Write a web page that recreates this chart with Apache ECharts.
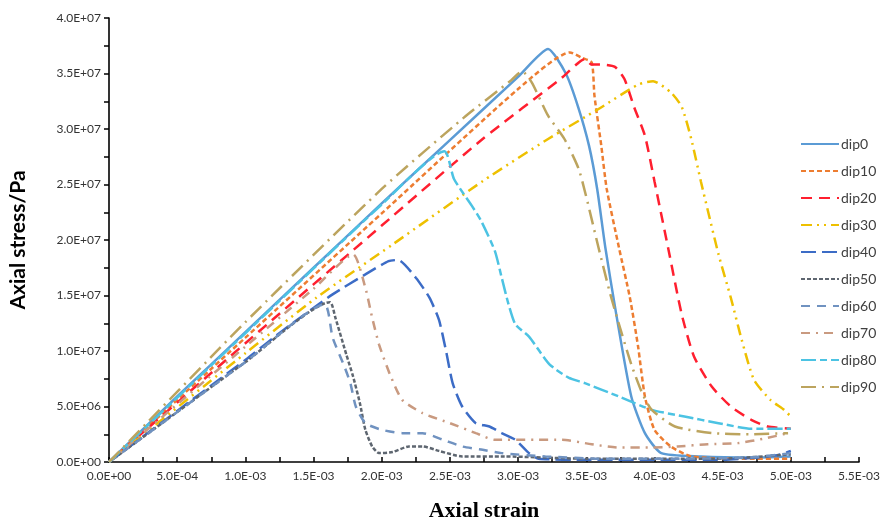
<!DOCTYPE html>
<html>
<head>
<meta charset="utf-8">
<script src="https://cdn.jsdelivr.net/npm/echarts@6/dist/echarts.min.js"></script>
<style>
html,body{margin:0;padding:0;background:#fff;}
#chart{width:895px;height:527px;}
</style>
</head>
<body>
<div id="chart"></div>
<script>
// ---- data (strain, stress in Pa) ----
const seriesNames = ['dip0','dip10','dip20','dip30','dip40','dip50','dip60','dip70','dip80','dip90'];

const dip0_x = [0, 5e-4, 1e-3, 1.5e-3, 2e-3, 2.5e-3, 3e-3, 3.22e-3, 3.35e-3, 3.44e-3, 3.52e-3, 3.58e-3, 3.64e-3, 3.72e-3, 3.83e-3, 3.93e-3, 4.05e-3, 4.34e-3, 4.7e-3, 5.0e-3];
const dip0_y = [0, 5.9e6, 1.17e7, 1.75e7, 2.33e7, 2.9e7, 3.47e7, 3.72e7, 3.5e7, 3.2e7, 2.85e7, 2.46e7, 1.93e7, 1.33e7, 5.9e6, 2.6e6, 0.8e6, 0.5e6, 0.4e6, 0.5e6];

const dip10_x = [0, 1e-3, 2e-3, 3e-3, 3.38e-3, 3.47e-3, 3.54e-3, 3.56e-3, 3.61e-3, 3.65e-3, 3.74e-3, 3.82e-3, 3.88e-3, 3.93e-3, 4.0e-3, 4.12e-3, 4.27e-3, 4.6e-3, 5.0e-3];
const dip10_y = [0, 1.12e7, 2.24e7, 3.36e7, 3.69e7, 3.64e7, 3.6e7, 3.3e7, 2.85e7, 2.46e7, 1.93e7, 1.48e7, 1.04e7, 5.9e6, 2.9e6, 1.4e6, 0.5e6, 0.3e6, 0.3e6];

const dip20_x = [0, 1e-3, 2e-3, 2.74e-3, 3.32e-3, 3.49e-3, 3.54e-3, 3.62e-3, 3.71e-3, 3.78e-3, 3.85e-3, 3.93e-3, 4.0e-3, 4.1e-3, 4.2e-3, 4.29e-3, 4.42e-3, 4.56e-3, 4.71e-3, 4.83e-3, 5.0e-3];
const dip20_y = [0, 1.07e7, 2.13e7, 2.91e7, 3.46e7, 3.63e7, 3.58e7, 3.58e7, 3.56e7, 3.45e7, 3.2e7, 2.94e7, 2.53e7, 1.93e7, 1.33e7, 9.5e6, 6.8e6, 5.0e6, 3.8e6, 3.2e6, 3.0e6];

const dip30_x = [0, 1e-3, 1.52e-3, 2.08e-3, 2.74e-3, 3.22e-3, 3.59e-3, 3.88e-3, 3.99e-3, 4.12e-3, 4.2e-3, 4.27e-3, 4.34e-3, 4.47e-3, 4.56e-3, 4.64e-3, 4.73e-3, 4.85e-3, 4.95e-3, 5.0e-3];
const dip30_y = [0, 9.8e6, 1.48e7, 1.96e7, 2.53e7, 2.91e7, 3.18e7, 3.4e7, 3.43e7, 3.33e7, 3.2e7, 2.91e7, 2.53e7, 1.87e7, 1.48e7, 1.1e7, 7.4e6, 5.6e6, 4.7e6, 4.1e6];

const dip40_x = [0, 5e-4, 1e-3, 1.28e-3, 1.64e-3, 1.88e-3, 2.05e-3, 2.12e-3, 2.25e-3, 2.35e-3, 2.42e-3, 2.47e-3, 2.52e-3, 2.59e-3, 2.69e-3, 2.79e-3, 2.88e-3, 2.98e-3, 3.08e-3, 3.15e-3, 3.5e-3, 4.0e-3, 4.5e-3, 4.9e-3, 5.0e-3];
const dip40_y = [0, 4.6e6, 9.2e6, 1.19e7, 1.51e7, 1.69e7, 1.81e7, 1.82e7, 1.66e7, 1.48e7, 1.28e7, 1.01e7, 7.1e6, 5.0e6, 3.5e6, 3.2e6, 2.6e6, 2.0e6, 0.8e6, 0.3e6, 0.2e6, 0.2e6, 0.2e6, 0.6e6, 1.0e6];

const dip50_x = [0, 5e-4, 1e-3, 1.62e-3, 1.66e-3, 1.74e-3, 1.79e-3, 1.84e-3, 1.88e-3, 1.93e-3, 1.98e-3, 2.08e-3, 2.2e-3, 2.3e-3, 2.42e-3, 2.59e-3, 2.9e-3, 3.5e-3, 4.0e-3, 4.5e-3, 5.0e-3];
const dip50_y = [0, 4.5e6, 9.0e6, 1.44e7, 1.3e7, 9.7e6, 7.7e6, 5.3e6, 2.9e6, 1.4e6, 0.8e6, 0.9e6, 1.4e6, 1.4e6, 1.0e6, 0.5e6, 0.5e6, 0.3e6, 0.3e6, 0.3e6, 0.7e6];

const dip60_x = [0, 5e-4, 1e-3, 1.58e-3, 1.64e-3, 1.72e-3, 1.77e-3, 1.81e-3, 1.88e-3, 2.0e-3, 2.15e-3, 2.3e-3, 2.45e-3, 2.59e-3, 2.74e-3, 2.88e-3, 3.2e-3, 3.6e-3, 4.2e-3, 4.7e-3, 5.0e-3];
const dip60_y = [0, 4.5e6, 9.0e6, 1.42e7, 1.12e7, 8.8e6, 7.1e6, 5.0e6, 3.5e6, 2.9e6, 2.6e6, 2.6e6, 2.0e6, 1.4e6, 1.1e6, 0.8e6, 0.5e6, 0.3e6, 0.3e6, 0.4e6, 0.8e6];

const dip70_x = [0, 1e-3, 1.5e-3, 1.79e-3, 1.88e-3, 1.93e-3, 1.98e-3, 2.06e-3, 2.15e-3, 2.3e-3, 2.5e-3, 2.69e-3, 2.83e-3, 3.12e-3, 3.32e-3, 3.54e-3, 3.74e-3, 3.96e-3, 4.17e-3, 4.39e-3, 4.61e-3, 4.8e-3, 4.98e-3];
const dip70_y = [0, 1.04e7, 1.56e7, 1.87e7, 1.57e7, 1.3e7, 1.06e7, 7.9e6, 5.6e6, 4.4e6, 3.5e6, 2.6e6, 2.0e6, 2.0e6, 2.0e6, 1.6e6, 1.3e6, 1.3e6, 1.4e6, 1.6e6, 1.7e6, 2.1e6, 2.6e6];

const dip80_x = [0, 1e-3, 2e-3, 2.46e-3, 2.53e-3, 2.66e-3, 2.73e-3, 2.83e-3, 2.88e-3, 2.93e-3, 2.98e-3, 3.08e-3, 3.23e-3, 3.37e-3, 3.49e-3, 3.74e-3, 3.98e-3, 4.22e-3, 4.47e-3, 4.71e-3, 5.0e-3];
const dip80_y = [0, 1.16e7, 2.32e7, 2.8e7, 2.55e7, 2.31e7, 2.17e7, 1.9e7, 1.66e7, 1.42e7, 1.24e7, 1.13e7, 8.8e6, 7.6e6, 7.1e6, 5.9e6, 4.7e6, 4.1e6, 3.5e6, 3.0e6, 3.0e6];

const dip90_x = [0, 1e-3, 2e-3, 2.6e-3, 2.95e-3, 3.03e-3, 3.1e-3, 3.22e-3, 3.34e-3, 3.45e-3, 3.59e-3, 3.67e-3, 3.74e-3, 3.83e-3, 3.91e-3, 3.98e-3, 4.15e-3, 4.42e-3, 4.7e-3, 4.98e-3];
const dip90_y = [0, 1.26e7, 2.46e7, 3.1e7, 3.44e7, 3.52e7, 3.42e7, 3.12e7, 2.91e7, 2.62e7, 1.93e7, 1.54e7, 1.24e7, 8.8e6, 6.2e6, 4.7e6, 3.2e6, 2.6e6, 2.5e6, 2.6e6];

const allX = [dip0_x, dip10_x, dip20_x, dip30_x, dip40_x, dip50_x, dip60_x, dip70_x, dip80_x, dip90_x];
const allY = [dip0_y, dip10_y, dip20_y, dip30_y, dip40_y, dip50_y, dip60_y, dip70_y, dip80_y, dip90_y];

// ---- styles ----
const colors = ['#5B9BD5','#ED7D31','#FF1F2F','#EEC000','#3C6CC6','#5E6670','#7092C0','#C99A80','#4CC3E3','#BCA45E'];
const dashes = ['solid', [5,3], [11,7], [11,5,2,5,2,5], [15,6], [4,2], [9,7], [9,6,2,6], [15,4,7,4], [15,6,2,6]];

function sci(v){
  const s = Number(v).toExponential(1);
  const parts = s.split('e');
  const sign = parts[1][0];
  const d = parts[1].slice(1).padStart(2,'0');
  return parts[0] + 'E' + sign + d;
}

const series = seriesNames.map((n,i)=>({
  name: n,
  type: 'line',
  showSymbol: false,
  symbol: 'none',
  smooth: 0.2,
  data: allX[i].map((x,j)=>[x, allY[i][j]]),
  lineStyle: {color: colors[i], width: 2.5, type: dashes[i]},
  itemStyle: {color: colors[i]},
  z: 2
}));

const chart = echarts.init(document.getElementById('chart'), null, {renderer:'canvas'});
chart.setOption({
  animation: false,
  backgroundColor: '#fff',
  grid: {left: 105, right: 36, top: 18, bottom: 61, containLabel: false},
  legend: {
    orient: 'vertical',
    left: 795,
    top: 132,
    itemWidth: 38,
    itemHeight: 14,
    itemGap: 13,
    itemStyle: {opacity: 0},
    data: seriesNames,
    textStyle: {fontFamily: 'Lato', fontSize: 14, color: '#404040', padding: [0,0,0,-3]}
  },
  xAxis: {
    type: 'value', min: 0, max: 0.0055, interval: 0.0005,
    name: 'Axial strain', nameLocation: 'middle', nameGap: 38,
    nameTextStyle: {fontFamily: 'Liberation Serif', fontWeight: 'bold', fontSize: 22, color: '#000'},
    axisLine: {show: true, lineStyle: {color: '#000', width: 1.6}},
    axisTick: {show: true, inside: true, length: 5, lineStyle: {color: '#000', width: 1.5}},
    minorTick: {show: true, splitNumber: 2, length: 5, lineStyle: {color: '#000', width: 1.5}},
    splitLine: {show: false},
    axisLabel: {formatter: sci, fontFamily: 'Lato', fontSize: 12, color: '#333', margin: 8}
  },
  yAxis: {
    type: 'value', min: 0, max: 4e7, interval: 5e6,
    name: 'Axial stress/Pa', nameLocation: 'middle', nameGap: 80,
    nameTextStyle: {fontFamily: 'Lato', fontWeight: 'bold', fontSize: 21, color: '#000'},
    axisLine: {show: true, lineStyle: {color: '#000', width: 1.6}},
    axisTick: {show: true, inside: false, length: 5, lineStyle: {color: '#000', width: 1.5}},
    minorTick: {show: true, splitNumber: 2, length: 5, lineStyle: {color: '#000', width: 1.5}},
    splitLine: {show: false},
    axisLabel: {formatter: sci, fontFamily: 'Lato', fontSize: 12, color: '#333', margin: 8}
  },
  series: series
});
</script>
</body>
</html>
